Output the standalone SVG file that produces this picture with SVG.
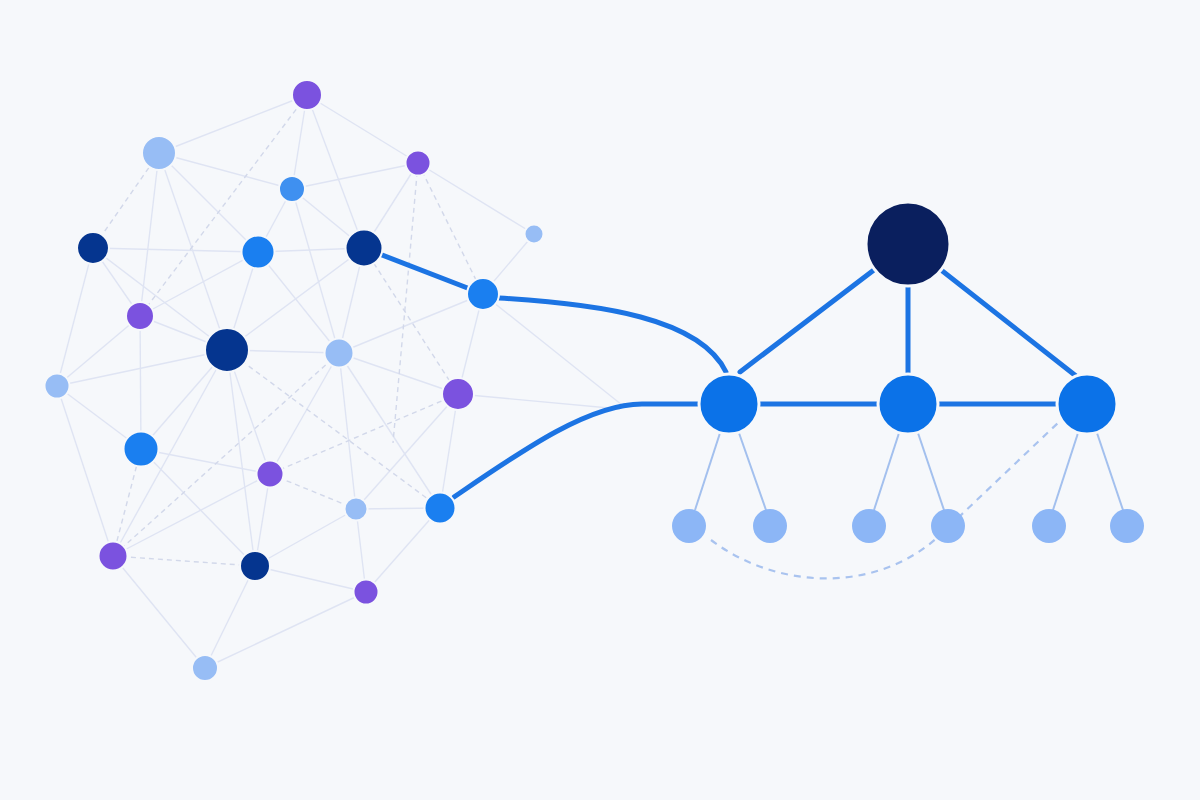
<svg xmlns="http://www.w3.org/2000/svg" width="1200" height="800" viewBox="0 0 1200 800">
<style>
.e{stroke:#dfe4f3;stroke-width:1.4;fill:none}
.d{stroke:#d2d8ea;stroke-width:1.4;fill:none;stroke-dasharray:5 4}
.t{stroke:#1c74e3;stroke-width:5;fill:none;stroke-linecap:round}
.lf{stroke:#a3c0ee;stroke-width:2;fill:none}
.ld{stroke:#a9c3ef;stroke-width:2.2;fill:none;stroke-dasharray:7 6}
.n{stroke:#f6f8fb;stroke-width:2}
.dk{fill:#05358f}.bl{fill:#1a7ff0}.mb{fill:#3f90f0}.lt{fill:#97bdf5}.pu{fill:#7b52df}
.hub{fill:#0b72e8;stroke:#f6f8fb;stroke-width:3}
.leaf{fill:#8cb6f6}
</style>
<rect width="1200" height="800" fill="#f6f8fb"/>
<g id="connectors">
<g id="faint-edges">
<line class="e" x1="159" y1="153" x2="307" y2="95"/>
<line class="e" x1="159" y1="153" x2="292" y2="189"/>
<line class="e" x1="159" y1="153" x2="258" y2="252"/>
<line class="e" x1="159" y1="153" x2="140" y2="316"/>
<line class="e" x1="159" y1="153" x2="227" y2="350"/>
<line class="e" x1="307" y1="95" x2="292" y2="189"/>
<line class="e" x1="307" y1="95" x2="364" y2="248"/>
<line class="e" x1="307" y1="95" x2="418" y2="163"/>
<line class="e" x1="292" y1="189" x2="418" y2="163"/>
<line class="e" x1="292" y1="189" x2="258" y2="252"/>
<line class="e" x1="292" y1="189" x2="364" y2="248"/>
<line class="e" x1="292" y1="189" x2="339" y2="353"/>
<line class="e" x1="418" y1="163" x2="364" y2="248"/>
<line class="e" x1="418" y1="163" x2="534" y2="234"/>
<line class="e" x1="534" y1="234" x2="483" y2="294"/>
<line class="e" x1="93" y1="248" x2="258" y2="252"/>
<line class="e" x1="93" y1="248" x2="57" y2="386"/>
<line class="e" x1="93" y1="248" x2="227" y2="350"/>
<line class="e" x1="93" y1="248" x2="140" y2="316"/>
<line class="e" x1="258" y1="252" x2="364" y2="248"/>
<line class="e" x1="258" y1="252" x2="140" y2="316"/>
<line class="e" x1="258" y1="252" x2="227" y2="350"/>
<line class="e" x1="258" y1="252" x2="339" y2="353"/>
<line class="e" x1="364" y1="248" x2="227" y2="350"/>
<line class="e" x1="364" y1="248" x2="339" y2="353"/>
<line class="e" x1="140" y1="316" x2="227" y2="350"/>
<line class="e" x1="140" y1="316" x2="141" y2="449"/>
<line class="e" x1="140" y1="316" x2="57" y2="386"/>
<line class="e" x1="57" y1="386" x2="227" y2="350"/>
<line class="e" x1="57" y1="386" x2="141" y2="449"/>
<line class="e" x1="57" y1="386" x2="113" y2="556"/>
<line class="e" x1="227" y1="350" x2="141" y2="449"/>
<line class="e" x1="227" y1="350" x2="113" y2="556"/>
<line class="e" x1="227" y1="350" x2="255" y2="566"/>
<line class="e" x1="227" y1="350" x2="270" y2="474"/>
<line class="e" x1="227" y1="350" x2="339" y2="353"/>
<line class="e" x1="339" y1="353" x2="483" y2="294"/>
<line class="e" x1="339" y1="353" x2="458" y2="394"/>
<line class="e" x1="339" y1="353" x2="270" y2="474"/>
<line class="e" x1="339" y1="353" x2="440" y2="508"/>
<line class="e" x1="339" y1="353" x2="356" y2="509"/>
<line class="e" x1="458" y1="394" x2="483" y2="294"/>
<line class="e" x1="458" y1="394" x2="440" y2="508"/>
<line class="e" x1="458" y1="394" x2="356" y2="509"/>
<line class="e" x1="483" y1="294" x2="622" y2="405"/>
<line class="e" x1="458" y1="394" x2="620" y2="409"/>
<line class="e" x1="141" y1="449" x2="270" y2="474"/>
<line class="e" x1="141" y1="449" x2="255" y2="566"/>
<line class="e" x1="270" y1="474" x2="255" y2="566"/>
<line class="e" x1="113" y1="556" x2="270" y2="474"/>
<line class="e" x1="113" y1="556" x2="205" y2="668"/>
<line class="e" x1="255" y1="566" x2="356" y2="509"/>
<line class="e" x1="255" y1="566" x2="366" y2="592"/>
<line class="e" x1="255" y1="566" x2="205" y2="668"/>
<line class="e" x1="366" y1="592" x2="205" y2="668"/>
<line class="e" x1="356" y1="509" x2="366" y2="592"/>
<line class="e" x1="440" y1="508" x2="366" y2="592"/>
<line class="e" x1="356" y1="509" x2="440" y2="508"/>
</g>
<g id="dashed-edges">
<line class="d" x1="159" y1="153" x2="93" y2="248"/>
<line class="d" x1="307" y1="95" x2="140" y2="316"/>
<line class="d" x1="418" y1="163" x2="483" y2="294"/>
<line class="d" x1="418" y1="163" x2="393" y2="443"/>
<line class="d" x1="364" y1="248" x2="458" y2="394"/>
<line class="d" x1="227" y1="350" x2="440" y2="508"/>
<line class="d" x1="339" y1="353" x2="113" y2="556"/>
<line class="d" x1="458" y1="394" x2="270" y2="474"/>
<line class="d" x1="270" y1="474" x2="356" y2="509"/>
<line class="d" x1="141" y1="449" x2="113" y2="556"/>
<line class="d" x1="113" y1="556" x2="255" y2="566"/>
</g>
<g id="leaf-edges">
<line class="lf" x1="720" y1="433" x2="695" y2="510"/>
<line class="lf" x1="739" y1="433" x2="766" y2="510"/>
<line class="lf" x1="899" y1="433" x2="874" y2="510"/>
<line class="lf" x1="918" y1="433" x2="944" y2="510"/>
<line class="lf" x1="1078" y1="433" x2="1053" y2="510"/>
<line class="lf" x1="1097" y1="433" x2="1123" y2="510"/>
<path class="ld" d="M711 540 C 780 592, 880 592, 940 535 L 1060 421"/>
</g>
<g id="strong-edges">
<line class="t" x1="364" y1="248" x2="483" y2="294"/>
<path class="t" d="M499 298 C 600 304, 700 318, 726 372"/>
<path class="t" d="M454 497 C 520 452, 588 404, 642 404 L 702 404"/>
<line class="t" x1="908" y1="244" x2="740" y2="372"/>
<line class="t" x1="908" y1="244" x2="908" y2="378"/>
<line class="t" x1="908" y1="244" x2="1076" y2="376"/>
<line class="t" x1="729" y1="404" x2="1087" y2="404"/>
</g>
</g>
<g id="nodes">
<circle id="n-p1" class="n pu" cx="307" cy="95" r="15"/>
<circle id="n-a1" class="n lt" cx="159" cy="153" r="17"/>
<circle id="n-p2" class="n pu" cx="418" cy="163" r="12.5"/>
<circle id="n-b1" class="n mb" cx="292" cy="189" r="13"/>
<circle id="n-l1" class="n lt" cx="534" cy="234" r="9.5"/>
<circle id="n-d1" class="n dk" cx="93" cy="248" r="16"/>
<circle id="n-b2" class="n bl" cx="258" cy="252" r="16.5"/>
<circle id="n-d2" class="n dk" cx="364" cy="248" r="18.5"/>
<circle id="n-b3" class="n bl" cx="483" cy="294" r="16"/>
<circle id="n-p3" class="n pu" cx="140" cy="316" r="14"/>
<circle id="n-d3" class="n dk" cx="227" cy="350" r="22"/>
<circle id="n-l2" class="n lt" cx="339" cy="353" r="14.5"/>
<circle id="n-l3" class="n lt" cx="57" cy="386" r="12.5"/>
<circle id="n-p4" class="n pu" cx="458" cy="394" r="16"/>
<circle id="n-b4" class="n bl" cx="141" cy="449" r="17.5"/>
<circle id="n-p5" class="n pu" cx="270" cy="474" r="13.5"/>
<circle id="n-l4" class="n lt" cx="356" cy="509" r="11.5"/>
<circle id="n-b5" class="n bl" cx="440" cy="508" r="15.5"/>
<circle id="n-p6" class="n pu" cx="113" cy="556" r="14.5"/>
<circle id="n-d4" class="n dk" cx="255" cy="566" r="15"/>
<circle id="n-p7" class="n pu" cx="366" cy="592" r="12.5"/>
<circle id="n-l5" class="n lt" cx="205" cy="668" r="13"/>
<circle id="n-top" cx="908" cy="244" r="42" fill="#0a1f5e" stroke="#f6f8fb" stroke-width="3"/>
<circle id="n-m1" class="hub" cx="729" cy="404" r="30"/>
<circle id="n-m2" class="hub" cx="908" cy="404" r="30"/>
<circle id="n-m3" class="hub" cx="1087" cy="404" r="30"/>
<circle id="n-leaf1" class="leaf" cx="689" cy="526" r="17"/>
<circle id="n-leaf2" class="leaf" cx="770" cy="526" r="17"/>
<circle id="n-leaf3" class="leaf" cx="869" cy="526" r="17"/>
<circle id="n-leaf4" class="leaf" cx="948" cy="526" r="17"/>
<circle id="n-leaf5" class="leaf" cx="1049" cy="526" r="17"/>
<circle id="n-leaf6" class="leaf" cx="1127" cy="526" r="17"/>
</g>
</svg>
